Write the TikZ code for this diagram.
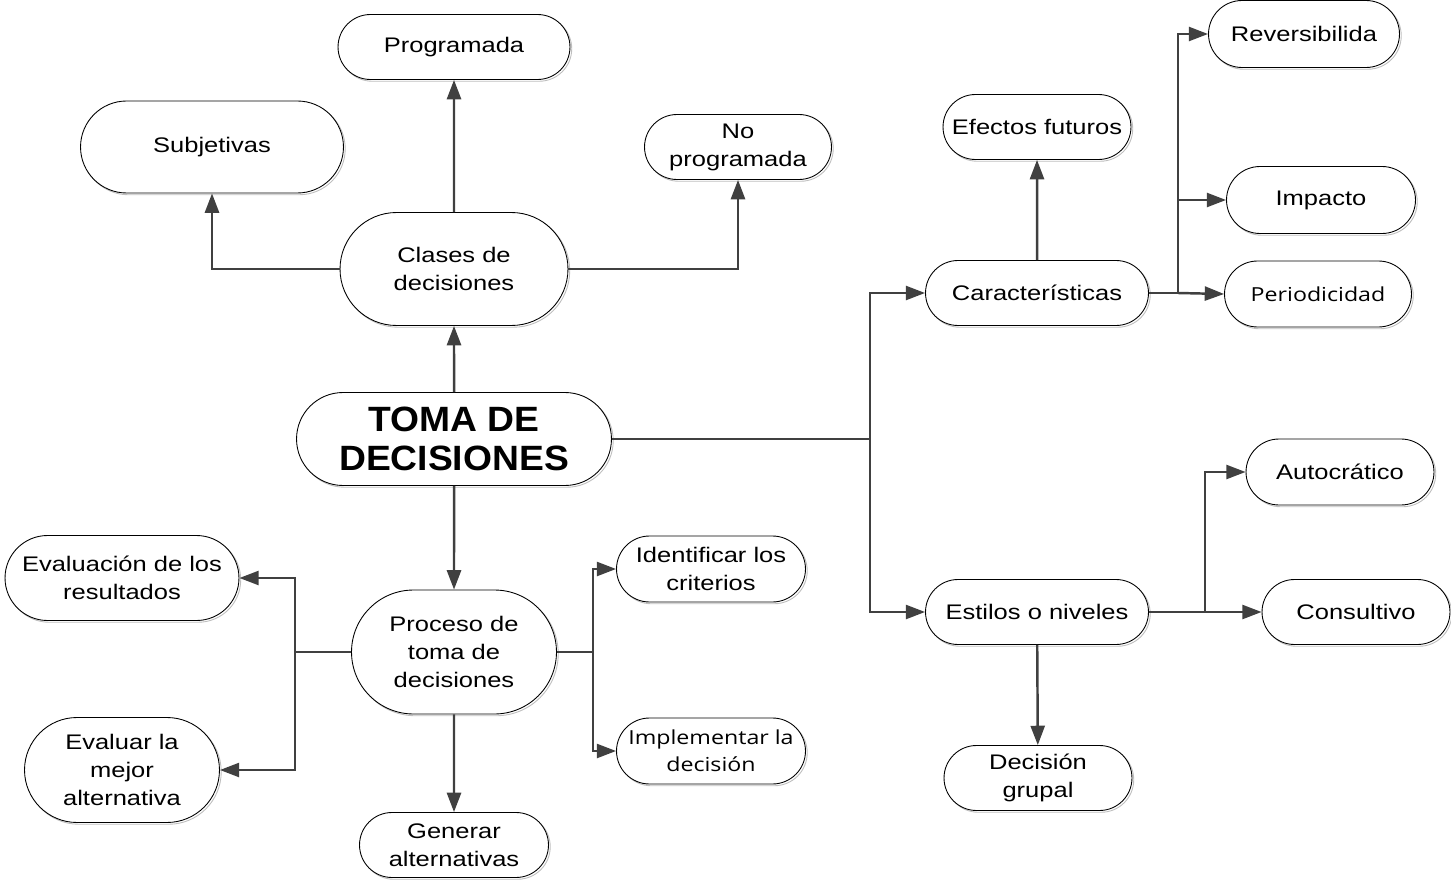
\documentclass[tikz,border=0pt]{standalone}
\usepackage{fontspec}
\setmainfont{Liberation Sans}[FakeStretch=1.21]
\newfontfamily\titlefont{Liberation Sans}[FakeStretch=1.06]
\newfontfamily\smallfont{Open Sans}[FakeStretch=1.2]
\usetikzlibrary{arrows.meta,shapes.misc,shadows}

\begin{document}
\begin{tikzpicture}[x=0.02cm, y=-0.02cm,
    pill/.style={rounded rectangle, draw=black, line width=0.5pt, fill=white,
      align=center, inner sep=0pt, font=\fontsize{12}{15.9}\selectfont,
      drop shadow={shadow xshift=1pt, shadow yshift=-1pt, fill=white, draw=black!25, opacity=1}},
    link/.style={draw=black!75, line width=1.4pt},
    arr/.style={link, -{Triangle[length=11pt, width=8pt]}},
    small/.style={font=\smallfont\fontsize{11}{15.3}\selectfont}]
        \useasboundingbox (0,0) rectangle (1451,882);
        % Centre
        \node[pill, minimum width=6.3cm, minimum height=1.86cm,
              font=\titlefont\fontsize{20}{22}\selectfont\bfseries] (toma) at (454,439) {TOMA DE\\DECISIONES};
        % Clases de decisiones
        \node[pill, minimum width=4.56cm, minimum height=2.26cm] (clases) at (454,269) {Clases de\\decisiones};
        \node[pill, minimum width=4.64cm, minimum height=1.3cm] (progr) at (454,47) {Programada};
        \node[pill, minimum width=5.26cm, minimum height=1.84cm] (subj) at (212,147) {Subjetivas};
        \node[pill, minimum width=3.74cm, minimum height=1.3cm] (noprogr) at (738,147) {No\\programada};
        % Caracteristicas
        \node[pill, minimum width=4.46cm, minimum height=1.3cm] (carac) at (1037,293) {Características};
        \node[pill, minimum width=3.76cm, minimum height=1.3cm] (efectos) at (1037,127) {Efectos futuros};
        \node[pill, minimum width=3.82cm, minimum height=1.34cm] (rever) at (1304,34) {Reversibilida};
        \node[pill, minimum width=3.78cm, minimum height=1.34cm] (impacto) at (1321,200) {Impacto};
        \node[pill, small, minimum width=3.74cm, minimum height=1.32cm] (perio) at (1318,294) {Periodicidad};
        % Estilos o niveles
        \node[pill, minimum width=4.46cm, minimum height=1.3cm] (estilos) at (1037,612) {Estilos o niveles};
        \node[pill, minimum width=3.76cm, minimum height=1.32cm] (auto) at (1340,472) {Autocrático};
        \node[pill, minimum width=3.76cm, minimum height=1.3cm] (consul) at (1356,612) {Consultivo};
        \node[pill, minimum width=3.76cm, minimum height=1.3cm] (grupal) at (1038,778) {Decisión\\grupal};
        % Proceso de toma de decisiones
        \node[pill, minimum width=4.1cm, minimum height=2.48cm] (proceso) at (454,652) {Proceso de\\toma de\\decisiones};
        \node[pill, minimum width=3.78cm, minimum height=1.3cm] (generar) at (454,845) {Generar\\alternativas};
        \node[pill, minimum width=3.78cm, minimum height=1.32cm] (ident) at (711,569) {Identificar los\\criterios};
        \node[pill, small, minimum width=3.78cm, minimum height=1.32cm] (implem) at (711,751) {Implementar la\\decisión};
        \node[pill, minimum width=4.68cm, minimum height=1.7cm] (evalres) at (122,578) {Evaluación de los\\resultados};
        \node[pill, minimum width=3.9cm, minimum height=2.1cm] (evalmej) at (122,770) {Evaluar la\\mejor\\alternativa};
        % Forks
        \coordinate (tomaFork) at (870,439);
        \coordinate (caracFork) at (1178,293);
        \coordinate (estilosFork) at (1205,612);
        \coordinate (procRFork) at (593,652);
        \coordinate (procLFork) at (295,652);
        % Connectors, upper half
        \draw[arr] (toma) -- (clases);
        \draw[arr] (clases) -- (progr);
        \draw[arr] (clases.west) -| (subj.south);
        \draw[arr] (clases.east) -| (noprogr.south);
        % Connectors, right side
        \draw[link] (toma.east) -- (tomaFork);
        \draw[arr] (tomaFork) |- (carac.west);
        \draw[arr] (tomaFork) |- (estilos.west);
        \draw[arr] (carac) -- (efectos);
        \draw[link] (carac.east) -- (caracFork);
        \draw[arr] (caracFork) |- (rever.west);
        \draw[arr] (caracFork) |- (impacto.west);
        \draw[arr] (caracFork) -- (perio.west);
        \draw[link] (estilos.east) -- (estilosFork);
        \draw[arr] (estilosFork) |- (auto.west);
        \draw[arr] (estilosFork) -- (consul.west);
        \draw[arr] (estilos) -- (grupal);
        % Connectors, lower half
        \draw[arr] (toma) -- (proceso);
        \draw[arr] (proceso) -- (generar);
        \draw[link] (proceso.east) -- (procRFork);
        \draw[arr] (procRFork) |- (ident.west);
        \draw[arr] (procRFork) |- (implem.west);
        \draw[link] (proceso.west) -- (procLFork);
        \draw[arr] (procLFork) |- (evalres.east);
        \draw[arr] (procLFork) |- (evalmej.east);
\end{tikzpicture}
\end{document}
